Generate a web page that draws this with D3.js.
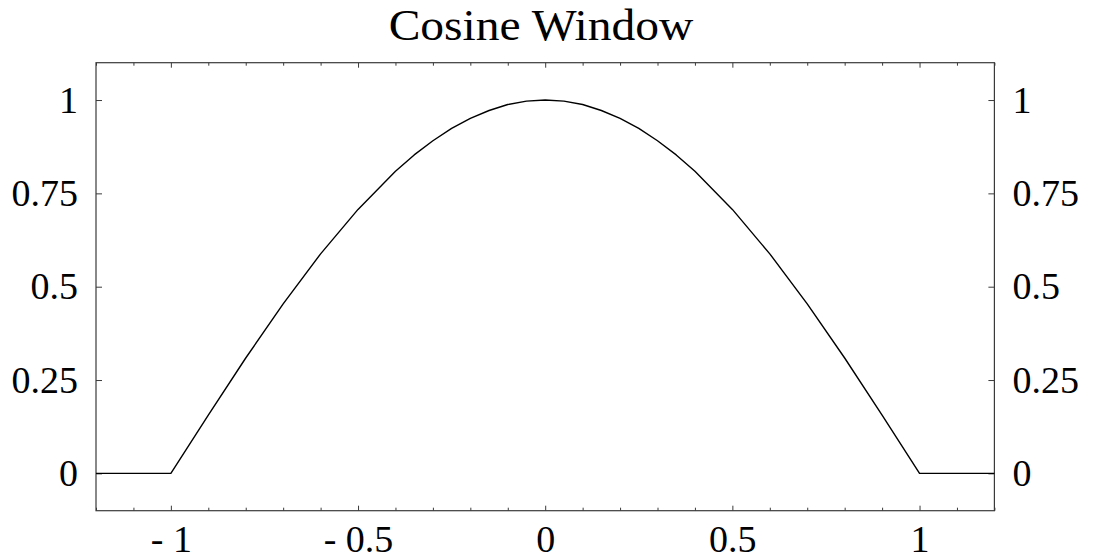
<!DOCTYPE html>
<html>
<head>
<meta charset="utf-8">
<script src="https://cdn.jsdelivr.net/npm/d3@7"></script>
<style>
  html, body { margin: 0; padding: 0; background: #fff; }
  svg { display: block; }
  text { font-family: "Liberation Serif", "Times New Roman", serif; fill: #000; }
</style>
</head>
<body>
<svg id="chart" width="1094" height="560"></svg>
<script>
// Cosine window samples (abscissa / value)
const windowX = [-1.2, -1, -0.9, -0.8, -0.7, -0.6, -0.5, -0.4, -0.35, -0.3, -0.25, -0.2,
                 -0.15, -0.1, -0.05, 0, 0.05, 0.1, 0.15, 0.2, 0.25, 0.3, 0.35, 0.4,
                 0.5, 0.6, 0.7, 0.8, 0.9, 1, 1.2];
const windowY = [0, 0, 0.156, 0.309, 0.454, 0.588, 0.707, 0.809, 0.853, 0.891, 0.924, 0.951,
                 0.972, 0.988, 0.997, 1, 0.997, 0.988, 0.972, 0.951, 0.924, 0.891, 0.853, 0.809,
                 0.707, 0.588, 0.454, 0.309, 0.156, 0, 0];

const xMajorTicks = [-1, -0.5, 0, 0.5, 1];
const xMajorLabels = ["- 1", "- 0.5", "0", "0.5", "1"];
const xMinorTicks = [-1.2, -1.1, -0.9, -0.8, -0.7, -0.6, -0.4, -0.3, -0.2, -0.1,
                     0.1, 0.2, 0.3, 0.4, 0.6, 0.7, 0.8, 0.9, 1.1, 1.2];
const yTicks = [0, 0.25, 0.5, 0.75, 1];
const yLabels = ["0", "0.25", "0.5", "0.75", "1"];

const title = "Cosine Window";

const svg = d3.select("#chart");
const plotL = 96, plotR = 994.4, plotT = 62.7, plotB = 510.7;

const x = d3.scaleLinear().domain([-1.2, 1.2]).range([plotL, plotR]);
const y = d3.scaleLinear().domain([-0.1, 1.1]).range([plotB, plotT]);

const tickFont = 38;
const frameColor = "#3a3a3a";

function styleAxis(g) {
  g.select(".domain").remove();
  g.selectAll(".tick line").attr("stroke", frameColor).attr("stroke-width", 1);
  g.selectAll(".tick text")
    .attr("font-size", tickFont)
    .attr("font-family", '"Liberation Serif", "Times New Roman", serif');
}

// bottom axis: majors with labels, minors without
svg.append("g")
  .attr("transform", `translate(0,${plotB})`)
  .call(d3.axisBottom(x).tickValues(xMajorTicks)
    .tickFormat((d, i) => xMajorLabels[i])
    .tickSizeInner(-5).tickSizeOuter(0).tickPadding(14))
  .call(styleAxis);
svg.append("g")
  .attr("transform", `translate(0,${plotB})`)
  .call(d3.axisBottom(x).tickValues(xMinorTicks).tickFormat("")
    .tickSizeInner(-3).tickSizeOuter(0))
  .call(styleAxis);

// top axis ticks (no labels)
svg.append("g")
  .attr("transform", `translate(0,${plotT})`)
  .call(d3.axisTop(x).tickValues(xMajorTicks).tickFormat("")
    .tickSizeInner(-5).tickSizeOuter(0))
  .call(styleAxis);
svg.append("g")
  .attr("transform", `translate(0,${plotT})`)
  .call(d3.axisTop(x).tickValues(xMinorTicks).tickFormat("")
    .tickSizeInner(-3).tickSizeOuter(0))
  .call(styleAxis);

// left and right value axes
svg.append("g")
  .attr("transform", `translate(${plotL},0)`)
  .call(d3.axisLeft(y).tickValues(yTicks)
    .tickFormat((d, i) => yLabels[i])
    .tickSizeInner(-6).tickSizeOuter(0).tickPadding(18))
  .call(styleAxis);
svg.append("g")
  .attr("transform", `translate(${plotR},0)`)
  .call(d3.axisRight(y).tickValues(yTicks)
    .tickFormat((d, i) => yLabels[i])
    .tickSizeInner(-6).tickSizeOuter(0).tickPadding(18))
  .call(styleAxis);

// frame
svg.append("rect")
  .attr("x", plotL).attr("y", plotT)
  .attr("width", plotR - plotL).attr("height", plotB - plotT)
  .attr("fill", "none")
  .attr("stroke", frameColor)
  .attr("stroke-width", 1.2);

// curve
const pts = windowX.map((v, i) => [v, windowY[i]]);
svg.append("path")
  .datum(pts)
  .attr("fill", "none")
  .attr("stroke", "#000")
  .attr("stroke-width", 1.4)
  .attr("stroke-linejoin", "round")
  .attr("d", d3.line().x(d => x(d[0])).y(d => y(d[1])));

// title, slightly widened
svg.append("text")
  .attr("transform", "translate(541,40) scale(1.08,1)")
  .attr("text-anchor", "middle")
  .attr("font-size", 44)
  .text(title);
</script>
</body>
</html>
